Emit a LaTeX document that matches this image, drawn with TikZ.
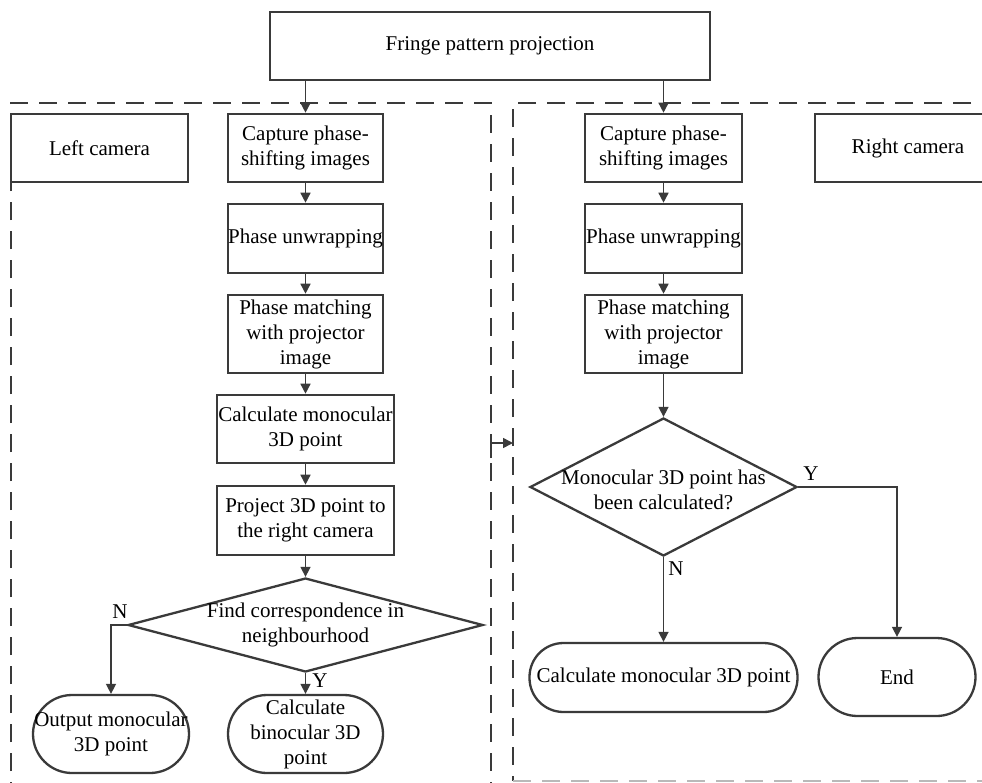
\documentclass[tikz,border=0pt]{standalone}
\usepackage{fontspec}
\setmainfont{Liberation Serif}
\usetikzlibrary{shapes.geometric,arrows.meta}
\definecolor{ln}{HTML}{3A3A3A}
\tikzset{
  box/.style={draw=ln, line width=2.6pt, rectangle, inner sep=0pt, align=center, font=\fontsize{21}{25}\selectfont},
  stad/.style={box, line width=2.3pt},
  dia/.style={draw=ln, line width=2.3pt, diamond, inner sep=0pt},
  dtext/.style={inner sep=0pt, align=center, font=\fontsize{21}{25}\selectfont},
  lbl/.style={inner sep=0pt, font=\fontsize{21}{25}\selectfont},
  arr/.style={draw=ln, line width=1.5pt, -{Triangle[length=10pt,width=10pt]}},
  frame/.style={draw=ln, line width=2.3pt, dash pattern=on 18pt off 11pt},
}
\begin{document}
\begin{tikzpicture}[x=1pt,y=-1pt]
\useasboundingbox (0,0) rectangle (982,782);
\clip (0,0) rectangle (982,782);
\fill[white] (0,0) rectangle (982,782);

% dashed frames
\draw[frame] (11,800) -- (11,103) -- (491,103) -- (491,800);
\draw[frame] (1000,103) -- (513,103) -- (513,781);
\draw[frame, draw=gray!55] (513,781) -- (1000,781);

% nodes
\node[box, minimum width=440pt, minimum height=68pt] (fringe) at (490,46) {Fringe pattern projection};
\node[box, minimum width=177pt, minimum height=68pt] (lcam) at (99.5,148) {Left camera};
\node[box, minimum width=155pt, minimum height=68pt] (lcap) at (305.5,148) {Capture phase-\\shifting images};
\node[box, minimum width=155pt, minimum height=69pt] (lunw) at (305.5,238.5) {Phase unwrapping};
\node[box, minimum width=155pt, minimum height=78pt] (lmat) at (305.5,334) {Phase matching\\with projector\\image};
\node[box, minimum width=177pt, minimum height=68pt] (lmono) at (305.5,429) {Calculate monocular\\3D point};
\node[box, minimum width=177pt, minimum height=69pt] (lproj) at (305.5,520.5) {Project 3D point to\\the right camera};
\node[dia, minimum width=355pt, minimum height=94pt] (ldia) at (305.5,625) {};
\node[dtext] (ldiat) at (305.5,625) {Find correspondence in\\neighbourhood};
\node[stad, rounded corners=39pt, minimum width=156pt, minimum height=78pt] (lout) at (111,734) {Output monocular\\3D point};
\node[stad, rounded corners=39pt, minimum width=155pt, minimum height=78pt] (lbin) at (305.5,734) {Calculate\\binocular 3D\\point};

\node[box, minimum width=157pt, minimum height=68pt] (rcap) at (663.5,148) {Capture phase-\\shifting images};
\node[box, minimum width=186pt, minimum height=68pt] (rcam) at (908,148) {Right camera};
\node[box, minimum width=157pt, minimum height=69pt] (runw) at (663.5,238.5) {Phase unwrapping};
\node[box, minimum width=157pt, minimum height=78pt] (rmat) at (663.5,334) {Phase matching\\with projector\\image};
\node[dia, minimum width=267pt, minimum height=138pt] (rdia) at (663.5,487) {};
\node[dtext] (rdiat) at (663.5,490) {Monocular 3D point has\\been calculated?};
\node[stad, rounded corners=34pt, minimum width=268pt, minimum height=69pt] (rmono) at (663.5,677.5) {Calculate monocular 3D point};
\node[stad, rounded corners=39pt, minimum width=157pt, minimum height=78pt] (rend) at (897,677) {End};

% labels
\node[lbl] (ln) at (120,612) {N};
\node[lbl] (ly) at (320,681) {Y};
\node[lbl] (ry) at (811,474) {Y};
\node[lbl] (rn) at (676,569) {N};

% connectors
\draw[arr] (lcap.north |- fringe.south) -- (lcap.north);
\draw[arr] (rcap.north |- fringe.south) -- (rcap.north);
\draw[arr] (lcap) -- (lunw);
\draw[arr] (lunw) -- (lmat);
\draw[arr] (lmat.south) -- (lmono.north -| lmat.south);
\draw[arr] (lmono) -- (lproj);
\draw[arr] (lproj.south) -- (ldia.north);
\draw[arr] (ldia.west) -| (lout.north);
\draw[arr] (ldia.south) -- (lbin.north);
\draw[arr] (rcap) -- (runw);
\draw[arr] (runw) -- (rmat);
\draw[arr] (rmat.south) -- (rdia.north);
\draw[arr] (rdia.south) -- (rmono.north);
\draw[arr] (rdia.east) -| (rend.north);

\coordinate (cs) at (491,458);
\coordinate (ce) at (513,443);
\draw[arr] (cs) |- (ce);
\end{tikzpicture}
\end{document}
